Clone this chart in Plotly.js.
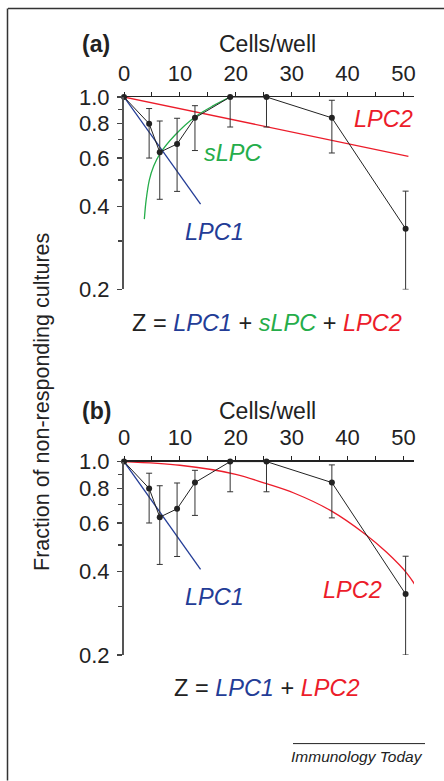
<!DOCTYPE html>
<html>
<head>
<meta charset="utf-8">
<script src="https://cdn.plot.ly/plotly-3.0.1.min.js"></script>
<style>html,body{margin:0;padding:0;background:#fff;}#chart{width:444px;height:781px;}</style>
</head>
<body>
<div id="chart"></div>
<script>
// ---- data ----
const cellsPerWell = [0, 4.5, 6.4, 9.5, 12.7, 19, 25.5, 37.2, 50.4];
const fractionNonResp = [1.0, 0.80, 0.63, 0.675, 0.84, 1.0, 1.0, 0.84, 0.332];
const errUpper = [1.0, 0.908, 0.818, 0.837, 0.93, 1.0, 1.0, 0.973, 0.455];
const errLower = [1.0, 0.60, 0.425, 0.454, 0.639, 0.778, 0.778, 0.626, 0.2];

const lpc1X = [0, 13.7];
const lpc1Y = [1.0, 0.408];

const lpc2aX = [0, 50.9];
const lpc2aY = [1.0, 0.609];

const slpcX = [3.64, 3.95, 4.54, 5.3, 6.45, 9.1, 12.7, 16, 19];
const slpcY = [0.36, 0.42, 0.50, 0.56, 0.623, 0.726, 0.846, 0.93, 1.0];

const lpc2bX = [0, 10, 20, 25.5, 30.4, 37, 43, 47, 50.7, 53.7];
const lpc2bY = [1.0, 0.97, 0.90, 0.832, 0.77, 0.665, 0.55, 0.47, 0.393, 0.318];

const xTicks = [0, 10, 20, 30, 40, 50];
const yTicks = [0.2, 0.4, 0.6, 0.8, 1.0];
const yTickText = ['0.2', '0.4', '0.6', '0.8', '1.0'];
const yMinor = [0.3, 0.5, 0.7, 0.9];

// ---- styling ----
const FONT = 'Liberation Sans, Arial, Helvetica, sans-serif';
const BLUE = '#233c96', RED = '#ec1c2a', GREEN = '#25ad4a', INK = '#222222';

const W = 444, H = 781;
const M = {l: 124, r: 30, t: 96.7, b: 125.7};
const PW = W - M.l - M.r, PH = H - M.t - M.b;
const px = x => (x - M.l) / PW;
const py = y => (H - M.b - y) / PH;

const errPlus = errUpper.map((u, i) => u - fractionNonResp[i]);
const errMinus = errLower.map((l, i) => fractionNonResp[i] - l);
const errVisible = errPlus.map((p, i) => p + errMinus[i] > 0);

function dataTrace(xa, ya) {
  return {
    x: cellsPerWell, y: fractionNonResp, xaxis: xa, yaxis: ya,
    type: 'scatter', mode: 'lines+markers', cliponaxis: false,
    line: {color: INK, width: 1},
    marker: {color: INK, size: 6},
    error_y: {type: 'data', symmetric: false,
      array: errPlus.map((v, i) => errVisible[i] ? v : null),
      arrayminus: errMinus.map((v, i) => errVisible[i] ? v : null),
      color: '#333333', thickness: 1, width: 3},
    showlegend: false, hoverinfo: 'skip'
  };
}
function lineTrace(x, y, color, xa, ya, shape) {
  return {x: x, y: y, xaxis: xa, yaxis: ya, type: 'scatter', mode: 'lines',
    cliponaxis: false, line: {color: color, width: 1.3, shape: shape || 'linear', smoothing: 0.9},
    showlegend: false, hoverinfo: 'skip'};
}

const traces = [
  lineTrace(lpc2aX, lpc2aY, RED, 'x', 'y'),
  lineTrace(slpcX, slpcY, GREEN, 'x', 'y', 'spline'),
  lineTrace(lpc1X, lpc1Y, BLUE, 'x', 'y'),
  dataTrace('x', 'y'),
  lineTrace(lpc2bX, lpc2bY, RED, 'x2', 'y2', 'spline'),
  lineTrace(lpc1X, lpc1Y, BLUE, 'x2', 'y2'),
  dataTrace('x2', 'y2')
];

function xAxis(anchor) {
  return {anchor: anchor, side: 'top', range: [0, 51.9], showgrid: false, zeroline: false,
    showline: true, linecolor: INK, linewidth: 1.5,
    tickvals: xTicks, ticks: 'outside', ticklen: 4, tickwidth: 1, tickcolor: INK,
    tickfont: {family: FONT, size: 22, color: INK}, ticklabelstandoff: 2,
    minor: {tickvals: [5, 15, 25, 35, 45], ticks: 'outside', ticklen: 4, tickwidth: 1, tickcolor: INK, showgrid: false}};
}
function yAxis(anchor, domain) {
  return {anchor: anchor, domain: domain, type: 'log', range: [Math.log10(0.2), 0],
    showgrid: false, zeroline: false, showline: true, linecolor: '#555555', linewidth: 2,
    tickvals: yTicks, ticktext: yTickText, ticks: 'outside', ticklen: 5, tickwidth: 1.5, tickcolor: '#444444',
    tickfont: {family: FONT, size: 22, color: INK}, ticklabelstandoff: 3,
    minor: {tickvals: yMinor, ticks: 'outside', ticklen: 4, tickwidth: 1.5, tickcolor: '#444444', showgrid: false}};
}

function ann(text, x, y, opts) {
  return Object.assign({text: text, xref: 'paper', yref: 'paper', x: px(x), y: py(y),
    xanchor: 'center', yanchor: 'middle', showarrow: false,
    font: {family: FONT, size: 23, color: INK}}, opts || {});
}
const it = (t, c) => `<span style="color:${c}"><i>${t}</i></span>`;

const annotations = [
  ann('<b>(a)</b>', 96, 44),
  ann('Cells/well', 267, 44),
  ann('<i>LPC2</i>', 383, 119, {font: {family: FONT, size: 23.5, color: RED}}),
  ann('<i>sLPC</i>', 233, 153, {font: {family: FONT, size: 23.5, color: GREEN}}),
  ann('<i>LPC1</i>', 214, 232, {font: {family: FONT, size: 23.5, color: BLUE}}),
  ann('Z = ' + it('LPC1', BLUE) + ' + ' + it('sLPC', GREEN) + ' + ' + it('LPC2', RED), 267, 323, {font: {family: FONT, size: 23.5, color: INK}}),
  ann('<b>(b)</b>', 96, 411),
  ann('Cells/well', 267, 411),
  ann('<i>LPC1</i>', 214, 597, {font: {family: FONT, size: 23.5, color: BLUE}}),
  ann('<i>LPC2</i>', 352, 590, {font: {family: FONT, size: 23.5, color: RED}}),
  ann('Z = ' + it('LPC1', BLUE) + ' + ' + it('LPC2', RED), 267, 688, {font: {family: FONT, size: 23.5, color: INK}}),
  ann('Fraction of non-responding cultures', 42, 402, {textangle: -90, font: {family: FONT, size: 21.5, color: INK}}),
  ann('<i>Immunology Today</i>', 425, 757, {xanchor: 'right', font: {family: FONT, size: 15.5, color: INK}})
];

const shapes = [
  {type: 'line', xref: 'paper', yref: 'paper', x0: px(8), x1: px(444), y0: py(8), y1: py(8), line: {color: '#333333', width: 1.5}},
  {type: 'line', xref: 'paper', yref: 'paper', x0: px(7.5), x1: px(7.5), y0: py(8), y1: py(781), line: {color: '#333333', width: 1.5}},
  {type: 'line', xref: 'paper', yref: 'paper', x0: px(293), x1: px(425), y0: py(744), y1: py(744), line: {color: '#222222', width: 1}}
];

const layout = {
  width: W, height: H, margin: M,
  paper_bgcolor: '#ffffff', plot_bgcolor: 'rgba(0,0,0,0)',
  showlegend: false,
  xaxis: xAxis('y'),
  yaxis: yAxis('x', [1 - (289.3 - 96.7) / PH, 1]),
  xaxis2: xAxis('y2'),
  yaxis2: yAxis('x2', [0, (655.3 - 461.7) / PH]),
  annotations: annotations,
  shapes: shapes
};

Plotly.newPlot('chart', traces, layout, {displayModeBar: false, staticPlot: true});
</script>
</body>
</html>
